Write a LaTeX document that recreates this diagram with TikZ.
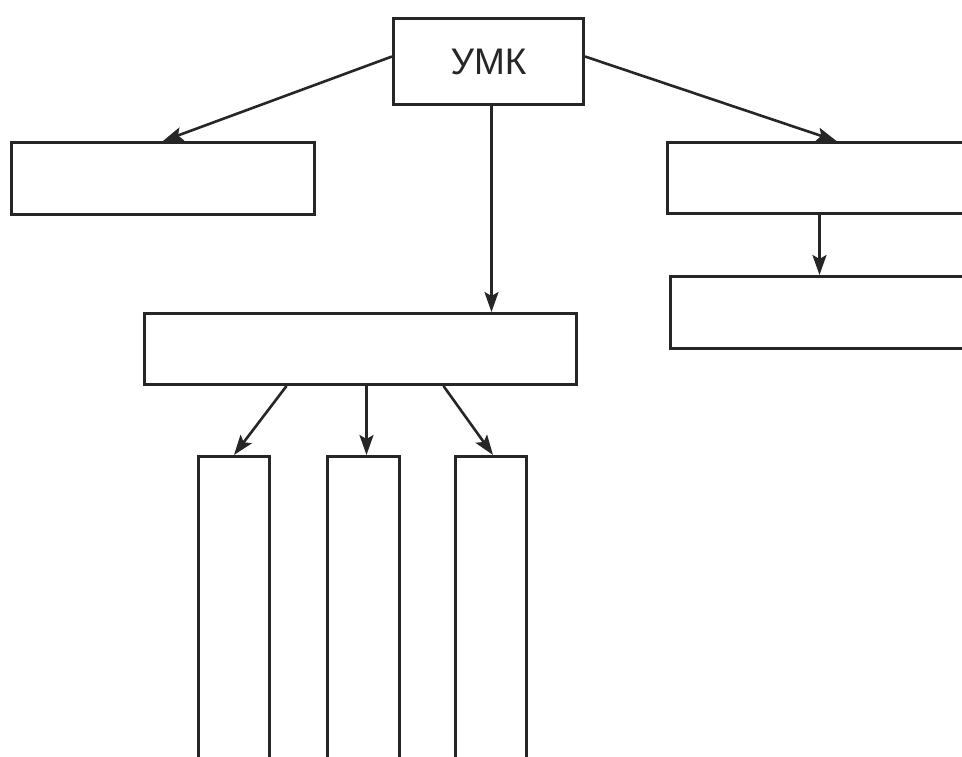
\documentclass[tikz,border=0pt]{standalone}
\usepackage{fontspec}
\setmainfont{Liberation Sans}
\usetikzlibrary{arrows.meta}
\definecolor{ink}{HTML}{262626}
\tikzset{
  box/.style={draw=ink, line width=3pt, fill=white, inner sep=0pt, anchor=north west},
  conn/.style={draw=ink, line width=2.6pt, -{Stealth[length=20pt,width=14pt,inset=4pt]}}
}
\begin{document}
\begin{tikzpicture}[x=1pt,y=-1pt]
\useasboundingbox (0,0) rectangle (962,756);
\clip (0,0) rectangle (962,756);
\fill[white] (0,0) rectangle (962,756);
\node[box, minimum width=190pt, minimum height=86pt, font=\fontsize{37}{40}\selectfont, text=ink] (umk) at (392,17) {УМК};
\node[box, minimum width=303pt, minimum height=72pt] (left) at (10,141) {};
\node[box, minimum width=334pt, minimum height=71pt] (r1) at (666,141) {};
\node[box, minimum width=331pt, minimum height=72pt] (r2) at (669,275) {};
\node[box, minimum width=432pt, minimum height=71pt] (mid) at (143,312) {};
\node[box, minimum width=71pt, minimum height=330pt] (t1) at (197,455) {};
\node[box, minimum width=72pt, minimum height=330pt] (t2) at (326,455) {};
\node[box, minimum width=71pt, minimum height=330pt] (t3) at (454,455) {};
\draw[conn] ([yshift=5pt]umk.west) -- (left.north);
\draw[conn] ([yshift=5pt]umk.east) -- ([xshift=2pt]r1.north);
\draw[conn] ([xshift=3pt]umk.south) -- ([xshift=3pt]umk.south |- mid.north);
\draw[conn] ([xshift=-15pt]r1.south) -- ([xshift=-16.5pt]r2.north);
\draw[conn] ([xshift=-74pt]mid.south) -- (t1.north);
\draw[conn] ([xshift=6pt]mid.south) -- ([xshift=3pt]t2.north);
\draw[conn] ([xshift=83pt]mid.south) -- ([xshift=2pt]t3.north);
\end{tikzpicture}
\end{document}
